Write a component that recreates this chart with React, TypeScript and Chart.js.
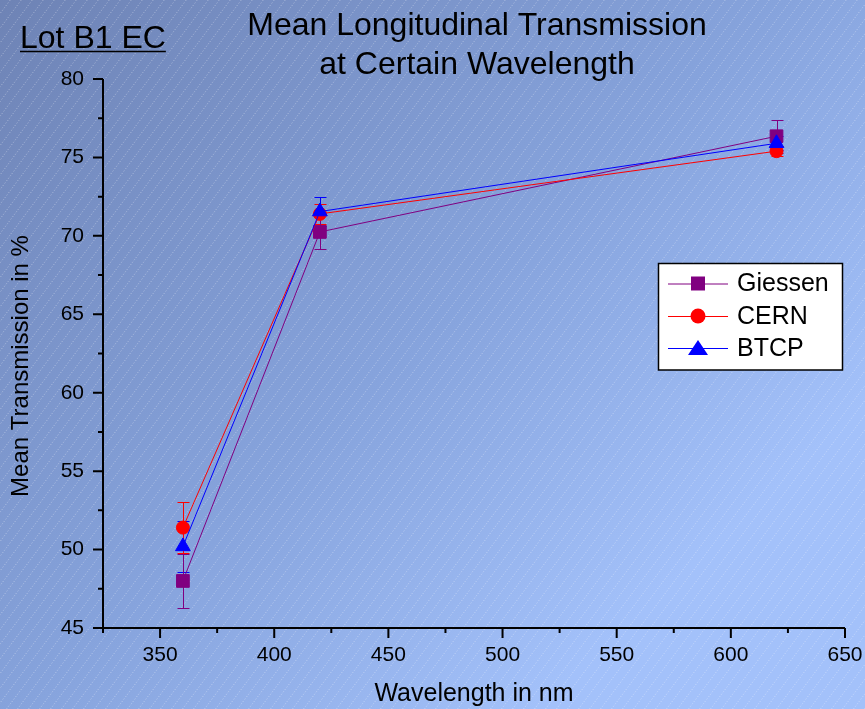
import React, { useEffect, useRef } from "react";
import { Chart, registerables } from "chart.js";

Chart.register(...registerables);

// Measured wavelengths (nm)
const wavelengths = [360, 420, 620];

// Mean longitudinal transmission (%) and its uncertainty per lab
const giessenValues = [48.0, 70.25, 76.35];
const giessenErrors = [1.72, 1.06, 1.05];
const cernValues = [51.4, 71.4, 75.4];
const cernErrors = [1.65, 0.65, 0.3];
const btcpValues = [50.2, 71.55, 75.9];
const btcpErrors = [1.65, 0.95, 0.45];

const seriesNames = ["Giessen", "CERN", "BTCP"];

// Axis ticks
const xMajorTicks = [350, 400, 450, 500, 550, 600, 650];
const xMinorTicks = [325, 375, 425, 475, 525, 575, 625];
const yMajorTicks = [45, 50, 55, 60, 65, 70, 75, 80];
const yMinorTicks = [47.5, 52.5, 57.5, 62.5, 67.5, 72.5, 77.5];

const chartTitle = ["Mean Longitudinal Transmission", "at Certain Wavelength"];
const lotLabel = "Lot B1 EC";
const xAxisTitle = "Wavelength in nm";
const yAxisTitle = "Mean Transmission in %";

const FONT = '"Liberation Sans", Arial, Helvetica, sans-serif';

type SeriesStyle = {
  color: string;
  pointStyle: "rect" | "circle" | "triangle";
  radius: number;
  order: number;
};

const styles: SeriesStyle[] = [
  { color: "#800080", pointStyle: "rect", radius: 9, order: 2 },
  { color: "#ff0000", pointStyle: "circle", radius: 6.5, order: 1 },
  { color: "#0000ff", pointStyle: "triangle", radius: 8.5, order: 0 },
];

const allValues = [giessenValues, cernValues, btcpValues];
const allErrors = [giessenErrors, cernErrors, btcpErrors];

// Shaded, hatched backdrop behind everything
const backdropPlugin = {
  id: "backdrop",
  beforeDraw(chart: any) {
    const { ctx, width, height } = chart;
    ctx.save();
    const g = ctx.createLinearGradient(0, 0, 600, 650);
    g.addColorStop(0, "#6e83b5");
    g.addColorStop(0.6, "#86a3dc");
    g.addColorStop(1, "#a3c1fa");
    ctx.fillStyle = g;
    ctx.fillRect(0, 0, width, height);

    ctx.strokeStyle = "rgba(255,255,255,0.4)";
    ctx.lineWidth = 1;
    ctx.setLineDash([1, 2]);
    const slope = 0.75;
    for (let x0 = -height; x0 < width + 20; x0 += 11) {
      ctx.beginPath();
      ctx.moveTo(x0 + 0.5, height);
      ctx.lineTo(x0 + 0.5 + height * slope, 0);
      ctx.stroke();
    }
    ctx.restore();
  },
};

// Vertical error bars with caps
const errorBarPlugin = {
  id: "errorBars",
  beforeDatasetsDraw(chart: any) {
    const { ctx } = chart;
    const xs = chart.scales.x;
    const ys = chart.scales.y;
    ctx.save();
    ctx.lineWidth = 1;
    for (let s = allValues.length - 1; s >= 0; s--) {
      ctx.strokeStyle = styles[s].color;
      wavelengths.forEach((w, i) => {
        const x = Math.round(xs.getPixelForValue(w)) + 0.5;
        const yTop = Math.round(ys.getPixelForValue(allValues[s][i] + allErrors[s][i])) + 0.5;
        const yBot = Math.round(ys.getPixelForValue(allValues[s][i] - allErrors[s][i])) + 0.5;
        ctx.beginPath();
        ctx.moveTo(x, yTop);
        ctx.lineTo(x, yBot);
        ctx.moveTo(x - 6, yTop);
        ctx.lineTo(x + 6, yTop);
        ctx.moveTo(x - 6, yBot);
        ctx.lineTo(x + 6, yBot);
        ctx.stroke();
      });
    }
    ctx.restore();
  },
};

function drawMarker(ctx: CanvasRenderingContext2D, kind: string, x: number, y: number, color: string) {
  ctx.fillStyle = color;
  ctx.beginPath();
  if (kind === "rect") {
    ctx.rect(x - 7, y - 7, 14, 14);
  } else if (kind === "circle") {
    ctx.arc(x, y, 7.5, 0, Math.PI * 2);
  } else {
    ctx.moveTo(x, y - 8);
    ctx.lineTo(x + 10, y + 7);
    ctx.lineTo(x - 10, y + 7);
    ctx.closePath();
  }
  ctx.fill();
}

// Axes, tick marks, titles and the legend box
const framePlugin = {
  id: "frame",
  afterDraw(chart: any) {
    const { ctx, chartArea } = chart;
    const xs = chart.scales.x;
    const ys = chart.scales.y;
    const { left, right, top, bottom } = chartArea;
    ctx.save();
    ctx.strokeStyle = "#000";
    ctx.lineWidth = 2;
    ctx.setLineDash([]);

    // axis lines
    ctx.beginPath();
    ctx.moveTo(left, top);
    ctx.lineTo(left, bottom);
    ctx.lineTo(right, bottom);
    ctx.stroke();

    // x ticks
    ctx.beginPath();
    xMajorTicks.forEach((v) => {
      const px = xs.getPixelForValue(v);
      ctx.moveTo(px, bottom);
      ctx.lineTo(px, bottom + 10);
    });
    xMinorTicks.forEach((v) => {
      const px = xs.getPixelForValue(v);
      ctx.moveTo(px, bottom);
      ctx.lineTo(px, bottom + 5);
    });
    // y ticks
    yMajorTicks.forEach((v) => {
      const py = ys.getPixelForValue(v);
      ctx.moveTo(left, py);
      ctx.lineTo(left - 10, py);
    });
    yMinorTicks.forEach((v) => {
      const py = ys.getPixelForValue(v);
      ctx.moveTo(left, py);
      ctx.lineTo(left - 5, py);
    });
    ctx.stroke();

    ctx.fillStyle = "#000";
    // chart title
    ctx.font = `32px ${FONT}`;
    ctx.textAlign = "center";
    ctx.textBaseline = "alphabetic";
    ctx.fillText(chartTitle[0], 477, 35);
    ctx.fillText(chartTitle[1], 477, 74);

    // lot label, underlined
    ctx.font = `32px ${FONT}`;
    ctx.textAlign = "left";
    ctx.fillText(lotLabel, 20, 48);
    const lw = ctx.measureText(lotLabel).width;
    ctx.lineWidth = 1.5;
    ctx.beginPath();
    ctx.moveTo(20, 51.5);
    ctx.lineTo(20 + lw, 51.5);
    ctx.stroke();

    // axis titles
    ctx.font = `25px ${FONT}`;
    ctx.textAlign = "center";
    ctx.fillText(xAxisTitle, (left + right) / 2, 701);
    ctx.save();
    ctx.font = `24px ${FONT}`;
    ctx.translate(21, 366);
    ctx.rotate(-Math.PI / 2);
    ctx.textBaseline = "middle";
    ctx.fillText(yAxisTitle, 0, 0);
    ctx.restore();

    // legend
    const bx = 658.5, by = 263.5, bw = 184, bh = 106.5;
    ctx.fillStyle = "#fff";
    ctx.fillRect(bx, by, bw, bh);
    ctx.strokeStyle = "#000";
    ctx.lineWidth = 1.5;
    ctx.strokeRect(bx, by, bw, bh);
    const rows = [283.5, 316, 348];
    seriesNames.forEach((name, i) => {
      const ry = rows[i];
      ctx.strokeStyle = styles[i].color;
      ctx.lineWidth = 1;
      ctx.beginPath();
      ctx.moveTo(668, ry + 0.5);
      ctx.lineTo(728, ry + 0.5);
      ctx.stroke();
      drawMarker(ctx, styles[i].pointStyle, 698, ry, styles[i].color);
      ctx.fillStyle = "#000";
      ctx.font = `25px ${FONT}`;
      ctx.textAlign = "left";
      ctx.textBaseline = "middle";
      ctx.fillText(name, 737, ry + 1);
    });
    ctx.restore();
  },
};

export default function App() {
  const canvasRef = useRef<HTMLCanvasElement | null>(null);

  useEffect(() => {
    const canvas = canvasRef.current;
    if (!canvas) return;
    const tickFont = { family: FONT, size: 21 };
    const chart = new Chart(canvas, {
      type: "line",
      data: {
        datasets: seriesNames.map((name, s) => ({
          label: name,
          data: wavelengths.map((w, i) => ({ x: w, y: allValues[s][i] })),
          borderColor: styles[s].color,
          backgroundColor: styles[s].color,
          borderWidth: 1,
          pointStyle: styles[s].pointStyle,
          pointRadius: styles[s].radius,
          pointBorderWidth: 1,
          pointBackgroundColor: styles[s].color,
          pointBorderColor: styles[s].color,
          tension: 0,
          order: styles[s].order,
        })),
      },
      options: {
        animation: false,
        responsive: false,
        devicePixelRatio: 1,
        layout: { padding: { top: 79, right: 20, left: 0, bottom: 0 } },
        plugins: {
          legend: { display: false },
          tooltip: { enabled: false },
          title: { display: false },
        },
        scales: {
          x: {
            type: "linear",
            min: 325,
            max: 650,
            afterBuildTicks: (scale: any) => {
              scale.ticks = xMajorTicks.map((v) => ({ value: v }));
            },
            afterFit: (scale: any) => {
              scale.height = 81;
              scale.paddingLeft = 0;
              scale.paddingRight = 0;
            },
            grid: { display: false, drawTicks: false },
            border: { display: false },
            ticks: {
              color: "#000",
              font: tickFont,
              padding: 15,
              maxRotation: 0,
              autoSkip: false,
            },
          },
          y: {
            type: "linear",
            min: 45,
            max: 80,
            afterBuildTicks: (scale: any) => {
              scale.ticks = yMajorTicks.map((v) => ({ value: v }));
            },
            afterFit: (scale: any) => {
              scale.width = 103;
              scale.paddingTop = 0;
              scale.paddingBottom = 0;
            },
            grid: { display: false, drawTicks: false },
            border: { display: false },
            ticks: {
              color: "#000",
              font: tickFont,
              padding: 19,
              autoSkip: false,
            },
          },
        },
      },
      plugins: [backdropPlugin, errorBarPlugin, framePlugin],
    } as any);
    return () => chart.destroy();
  }, []);

  return (
    <div style={{ position: "fixed", left: 0, top: 0, width: 865, height: 709 }}>
      <canvas ref={canvasRef} width={865} height={709} style={{ display: "block" }} />
    </div>
  );
}
